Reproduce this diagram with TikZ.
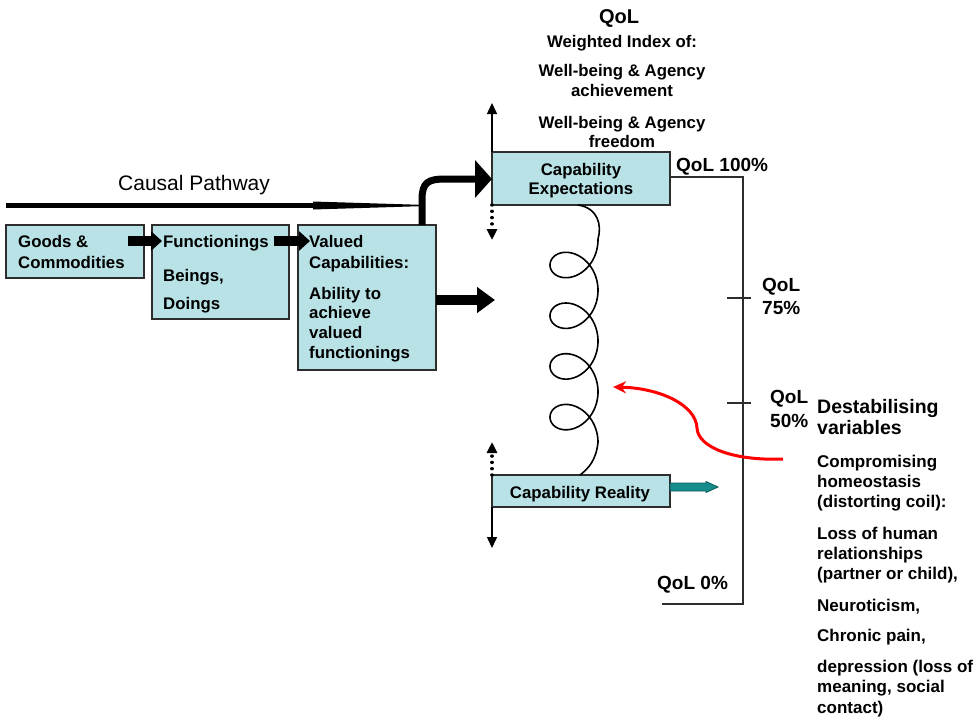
\documentclass[tikz,border=0pt]{standalone}
\usepackage{fontspec}
\setmainfont{Liberation Sans}
\usetikzlibrary{arrows.meta}
\definecolor{boxfill}{RGB}{184,226,229}
\definecolor{boxline}{RGB}{45,45,45}
\definecolor{tealarrow}{RGB}{22,140,140}
\definecolor{tealdark}{RGB}{10,90,90}
\begin{document}
\begin{tikzpicture}[x=1pt,y=-1pt,
  box/.style={draw=boxline, fill=boxfill, line width=1.6pt, anchor=north west, inner sep=0pt, outer sep=0pt},
  lbl/.style={font=\bfseries\fontsize{16.8}{20}\selectfont, inner sep=0pt, anchor=base west},
  lblc/.style={lbl, anchor=base},
  qol/.style={font=\bfseries\fontsize{19}{22}\selectfont, inner sep=0pt, anchor=base west},
  lst/.style={font=\bfseries\fontsize{17}{20}\selectfont, inner sep=0pt, anchor=base west},
  thinarrow/.style={line width=1.5pt, -{Triangle[length=11pt,width=10pt]}},
  dotarrow/.style={line width=3.4pt, line cap=round, dash pattern=on 0.01pt off 6.3pt, -{Triangle[length=11pt,width=10pt]}},
]
\useasboundingbox (0,0) rectangle (979,718);
\fill[white] (0,0) rectangle (979,718);

% ---------- boxes ----------
\node[box, minimum width=138pt, minimum height=53pt] (goods) at (6,225) {};
\node[box, minimum width=137pt, minimum height=94pt] (func) at (152,225) {};
\node[box, minimum width=138pt, minimum height=145pt] (valued) at (298,225) {};
\node[box, minimum width=178pt, minimum height=53pt] (exp) at (492,152) {};
\node[box, minimum width=178pt, minimum height=32pt] (real) at (492,475) {};

% ---------- box texts ----------
\node[lbl] (g1) at (18,247) {Goods \&};
\node[lbl] (g2) at (18,268) {Commodities};
\node[lbl] (f1) at (163,247) {Functionings};
\node[lbl] (f2) at (163,281) {Beings,};
\node[lbl] (f3) at (163,309) {Doings};
\node[lbl] (v1) at (309,247) {Valued};
\node[lbl] (v2) at (309,268) {Capabilities:};
\node[lbl] (v3) at (309,299) {Ability to};
\node[lbl] (v4) at (309,318) {achieve};
\node[lbl] (v5) at (309,338) {valued};
\node[lbl] (v6) at (309,358) {functionings};
\node[lblc] (e1) at (581,175) {Capability};
\node[lblc] (e2) at (581,194) {Expectations};
\node[lblc] (r1) at (580,498) {Capability Reality};

% ---------- block arrows ----------
\draw[line width=10pt, -{Triangle[length=11pt,width=19pt]}] (128,241) -- (162,241);
\draw[line width=10pt, -{Triangle[length=11pt,width=19pt]}] (274,241) -- (310,241);
\draw[line width=10pt, -{Triangle[length=18pt,width=25pt]}] (valued.east |- 0,300) -- (495,300);

% ---------- causal pathway ----------
\node[font=\fontsize{21}{24}\selectfont, inner sep=0pt, anchor=base west] (causal) at (118,190) {Causal Pathway};
\coordinate (cstart) at (6,205.5);
\draw[line width=4.5pt] (cstart) -- (316,205.5);
\fill (313,201.5) -- (420,204.8) -- (420,206.2) -- (313,209.5) -- cycle;
\draw[line width=7pt, -{Triangle[length=17pt,width=37pt]}]
  (valued.north -| 422,0) -- (422,200) .. controls (422,182) and (428,179) .. (446,179) -- (exp.west |- 0,179);

% ---------- vertical arrows at boxes ----------
\draw[thinarrow] (exp.north west) -- (492,103);
\draw[dotarrow] (exp.south west) -- (492,240);
\draw[dotarrow] (real.north west) -- (492,442);
\draw[thinarrow] (real.south west) -- (492,548);

% ---------- coil ----------
\draw[line width=1.6pt, line join=round]
  (578,205) .. controls (598,208) and (602,225) .. (598,239.2)
  -- plot[domain=-3.1416:21.991, samples=320, smooth, variable=\t]
     ({574-24*cos(\t r)}, {265+8.07*\t-24*sin(\t r)})
  .. controls (596,460) and (589,468) .. (580,475);

% ---------- teal arrow ----------
\filldraw[fill=tealarrow, draw=tealdark, line width=0.8pt]
  (real.east |- 0,483) -- (706,483) -- (706,481.5) -- (718,487) -- (706,492.5) -- (706,491) -- (real.east |- 0,491) -- cycle;

% ---------- title ----------
\node[font=\bfseries\fontsize{20}{24}\selectfont, inner sep=0pt, anchor=base] (t1) at (619,23) {QoL};
\node[lblc] (t2) at (622,47) {Weighted Index of:};
\node[lblc] (t3) at (622,76) {Well-being \& Agency};
\node[lblc] (t4) at (622,96) {achievement};
\node[lblc] (t5) at (622,128) {Well-being \& Agency};
\node[lblc] (t6) at (622,147) {freedom};

% ---------- QoL scale ----------
\coordinate (s1) at (743,177);
\coordinate (s2) at (743,604);
\coordinate (s3) at (662,604);
\draw[line width=1.5pt, boxline] (exp.east |- s1) -- (s1) -- (s2) -- (s3);
\draw[line width=1.5pt, boxline] (727,298) -- (751,298);
\draw[line width=1.5pt, boxline] (727,403) -- (751,403);
\node[qol] (q100) at (676,171) {QoL 100\%};
\node[qol] (q75a) at (762,291) {QoL};
\node[qol] (q75b) at (762,314) {75\%};
\node[qol] (q50a) at (770,403) {QoL};
\node[qol] (q50b) at (770,427) {50\%};
\node[qol] (q0) at (657,589) {QoL 0\%};

% ---------- destabilising variables ----------
\node[font=\bfseries\fontsize{19.5}{22}\selectfont, inner sep=0pt, anchor=base west] (d1) at (817,413) {Destabilising};
\node[font=\bfseries\fontsize{19.5}{22}\selectfont, inner sep=0pt, anchor=base west] (d2) at (817,434) {variables};
\node[lst] (l1) at (817,467) {Compromising};
\node[lst] (l2) at (817,487) {homeostasis};
\node[lst] (l3) at (817,507) {(distorting coil):};
\node[lst] (l4) at (817,539) {Loss of human};
\node[lst] (l5) at (817,559) {relationships};
\node[lst] (l6) at (817,579) {(partner or child),};
\node[lst] (l7) at (817,611) {Neuroticism,};
\node[lst] (l8) at (817,641) {Chronic pain,};
\node[lst] (l9) at (817,672) {depression (loss of};
\node[lst] (l10) at (817,692) {meaning, social};
\node[lst] (l11) at (817,713) {contact)};

% ---------- red arrow ----------
\coordinate (redstart) at (783,459);
\coordinate (redend) at (613,387);
\draw[red, line width=3pt, -{Stealth[length=13pt,width=12pt]}]
  (redstart) .. controls (735,461) and (698,448) .. (697,428)
  .. controls (696,405) and (660,388) .. (redend);
\end{tikzpicture}
\end{document}
